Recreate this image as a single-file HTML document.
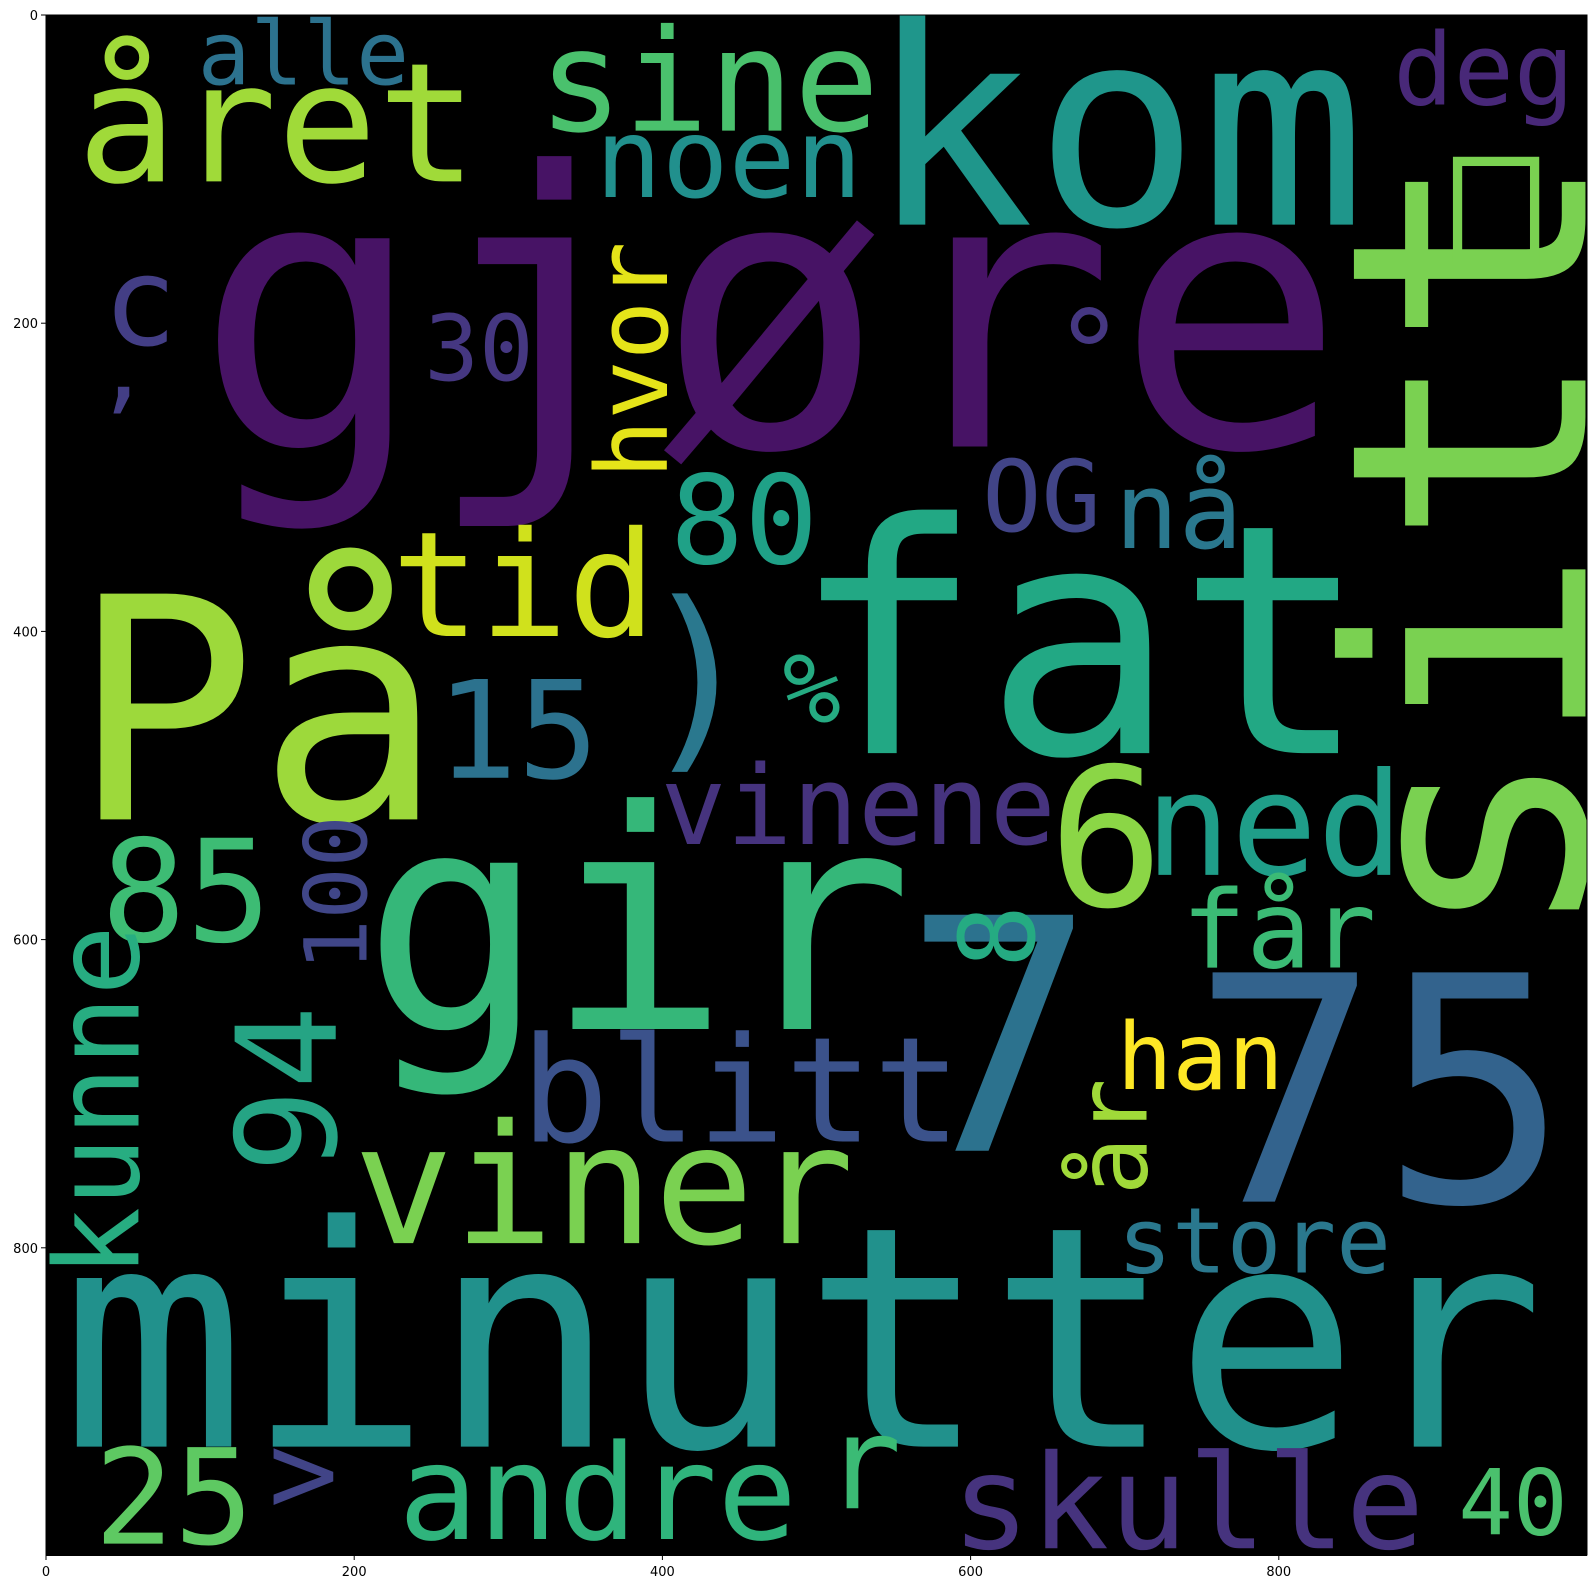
<!DOCTYPE html>
<html><head><meta charset="utf-8"><style>
html,body{margin:0;padding:0;background:#fff;}
svg{display:block;}
</style></head><body>
<svg id="chart" width="1596" height="1588" xmlns="http://www.w3.org/2000/svg">
<defs><clipPath id="clip"><rect x="0" y="0" width="1000" height="1000"/></clipPath></defs>
<g id="img" transform="translate(46,15) scale(1.541)" clip-path="url(#clip)">
<rect x="0" y="0" width="1000" height="1000" fill="#000"/>
<rect x="916" y="95" width="50" height="64" fill="none" stroke="#7ad151" stroke-width="6"/>
</g>
<g id="axes"></g>
</svg>
<script>
const words = ["gjøre","kom","året","sine","alle","deg","noen","sitt","På","tid","fat","80","OG","nå","hvor","c",",","30","°","15",")","%","vinene","6","ned","gir","85","100","kunne","94","får","7","75","blitt","han","år","viner","store","minutter","8","25",">","andre","r","skulle","40"];
const cx = [470,695,150,430,167,933,443,999,137,310,671,453,646,735,403,61,50,281,677,306,423,497,527,688,797,384,91,208,60,188,800,619,866,451,749,714,362,784,491,641,83,167,358,530,741,952];
const cy = [280,136,108,75,45,58,118,345,522,403,479,356,335,346,224,214,250,237,247,495,474,459,538,578,558,658,601,570,705,697,618,737,770,731,697,728,797,816,929,598,992,972,989,969,995,986];
const sizes = [248,179,108,92,57,65,72,214,201,95,208,80,64,69,64,80,60,59,77,88,130,63,71,125,93,198,92,56,76,90,70,210,204,95,60,63,108,59,200,68,86,75,86,84,85,59];
const rot = [0,0,0,0,0,0,0,-90,0,0,0,0,0,0,-90,0,0,0,0,0,0,0,0,0,0,0,0,-90,-90,-90,0,0,0,0,0,-90,0,0,0,-90,0,0,0,0,0,0];
const colors = ["#471365","#1f968b","#a0da39","#4ac16d","#2c728e","#482878","#21908d","#7ad151","#9dd93b","#d0e11c","#22a884","#1fa187","#414487","#2a788e","#e5e419","#433e85","#433e85","#453781","#453781","#2c728e","#2a788e","#25ab82","#46337e","#8bd646","#1f9e89","#35b779","#3dbc74","#404688","#27ad81","#25a484","#3bbb75","#2c728e","#33638d","#3b528b","#fde725","#a0da39","#7ad151","#2a788e","#21918c","#25ab82","#5ec962","#414487","#2fb47c","#3bbb75","#46337e","#4ac16d"];
const xTicks = [0,200,400,600,800];
const yTicks = [0,200,400,600,800];
const NS = "http://www.w3.org/2000/svg";
const img = document.getElementById('img');
const box = img.lastElementChild;
for (let i = 0; i < words.length; i++) {
  const t = document.createElementNS(NS, 'text');
  
  
  t.setAttribute('x', 0);
  t.setAttribute('y', 0);
  t.setAttribute('text-anchor', 'middle');
  t.setAttribute('font-family', '"DejaVu Sans Mono","Liberation Mono",monospace');
  t.setAttribute('font-size', sizes[i]);
  t.setAttribute('fill', colors[i]);
  t.setAttribute('transform', 'translate(' + cx[i] + ',' + cy[i] + ') rotate(' + rot[i] + ')');
  t.textContent = words[i];
  img.insertBefore(t, box);
}
const axes = document.getElementById('axes');
const sx = v => 46 + v * 1.541;
const sy = v => 15 + v * 1.541;
const frame = document.createElementNS(NS, 'rect');


frame.setAttribute('x', 46); frame.setAttribute('y', 15);
frame.setAttribute('width', 1541); frame.setAttribute('height', 1540);
frame.setAttribute('fill', 'none'); frame.setAttribute('stroke', '#000'); frame.setAttribute('stroke-width', '1');
axes.appendChild(frame);
xTicks.forEach(v => {
  const l = document.createElementNS(NS, 'line');
  
  
  l.setAttribute('x1', sx(v)); l.setAttribute('x2', sx(v));
  l.setAttribute('y1', 1555); l.setAttribute('y2', 1560);
  l.setAttribute('stroke', '#000');
  axes.appendChild(l);
  const t = document.createElementNS(NS, 'text');
  
  
  t.setAttribute('x', sx(v)); t.setAttribute('y', 1576);
  t.setAttribute('text-anchor', 'middle');
  t.setAttribute('font-family', '"DejaVu Sans",sans-serif');
  t.setAttribute('font-size', '13');
  t.textContent = v;
  axes.appendChild(t);
});
yTicks.forEach(v => {
  const l = document.createElementNS(NS, 'line');
  
  
  l.setAttribute('x1', 41); l.setAttribute('x2', 46);
  l.setAttribute('y1', sy(v)); l.setAttribute('y2', sy(v));
  l.setAttribute('stroke', '#000');
  axes.appendChild(l);
  const t = document.createElementNS(NS, 'text');
  
  
  t.setAttribute('x', 38); t.setAttribute('y', sy(v) + 5);
  t.setAttribute('text-anchor', 'end');
  t.setAttribute('font-family', '"DejaVu Sans",sans-serif');
  t.setAttribute('font-size', '13');
  t.textContent = v;
  axes.appendChild(t);
});
</script>
</body></html>
